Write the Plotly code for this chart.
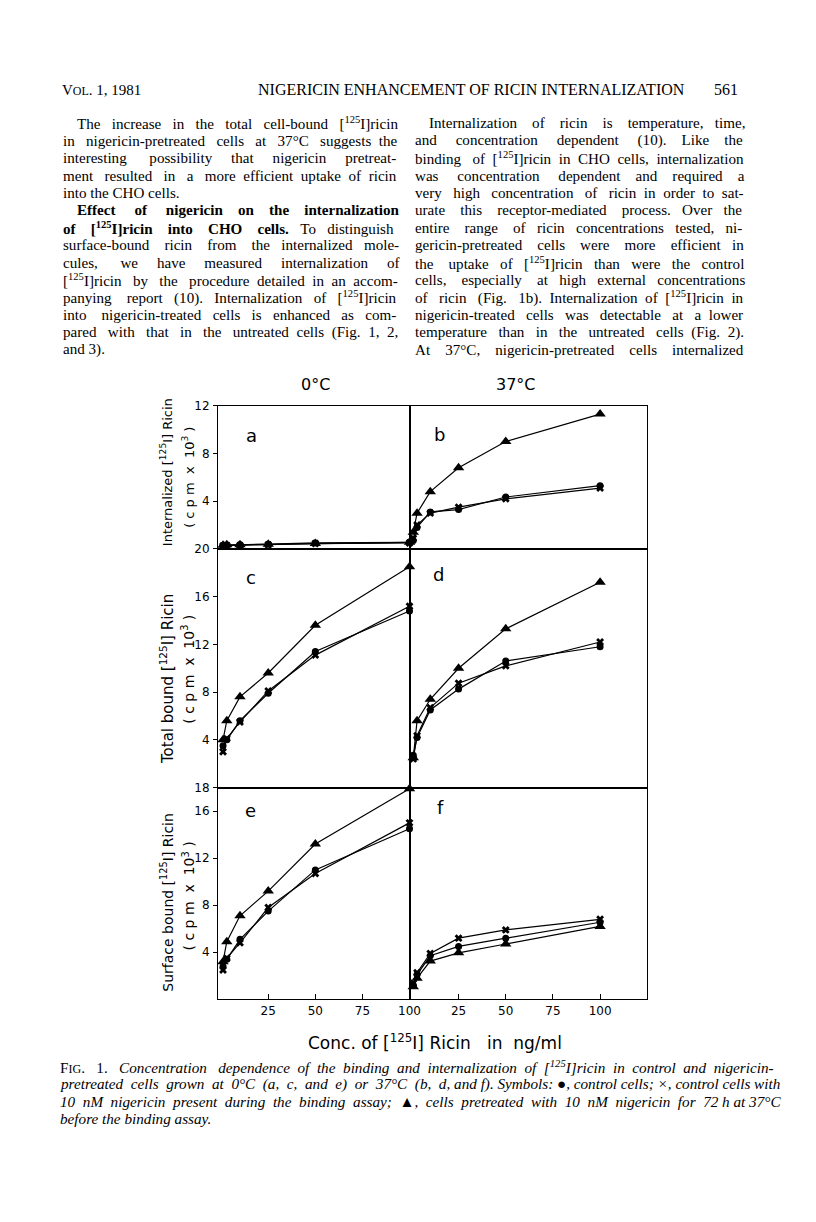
import re
import plotly.graph_objects as go

W, H = 816, 1222
OFF_X, OFF_Y = 0, 10  # page offset of the plot div inside the browser window

# ---------------- data ----------------
conc = [1, 3, 10, 25, 50, 100]

# panel a: internalized, 0 C
a_control = [0.3, 0.3, 0.35, 0.4, 0.5, 0.55]
a_nigericin = [0.25, 0.3, 0.3, 0.35, 0.45, 0.5]
a_pretreated = [0.3, 0.35, 0.35, 0.4, 0.45, 0.55]
# panel b: internalized, 37 C
b_control = [0.7, 1.8, 3.1, 3.3, 4.35, 5.3]
b_nigericin = [0.9, 2.0, 3.0, 3.5, 4.2, 5.1]
b_pretreated = [1.4, 3.0, 4.8, 6.8, 9.0, 11.3]
# panel c: total bound, 0 C
c_control = [3.5, 4.0, 5.6, 7.9, 11.4, 14.8]
c_nigericin = [3.0, 4.1, 5.5, 8.1, 11.1, 15.2]
c_pretreated = [4.0, 5.6, 7.6, 9.6, 13.6, 18.5]
# panel d: total bound, 37 C
d_control = [2.7, 4.2, 6.5, 8.25, 10.6, 11.8]
d_nigericin = [2.4, 4.35, 6.7, 8.75, 10.2, 12.2]
d_pretreated = [2.5, 5.6, 7.4, 10.0, 13.3, 17.2]
# panel e: surface bound, 0 C
e_control = [2.8, 3.4, 5.1, 7.5, 11.0, 14.5]
e_nigericin = [2.5, 3.5, 4.8, 7.8, 10.7, 15.0]
e_pretreated = [3.2, 4.9, 7.1, 9.2, 13.2, 17.9]
# panel f: surface bound, 37 C
f_control = [1.2, 2.1, 3.7, 4.5, 5.2, 6.55]
f_nigericin = [1.36, 2.26, 3.9, 5.2, 5.9, 6.8]
f_pretreated = [1.07, 1.8, 3.25, 3.95, 4.7, 6.2]

left_xticks = [25, 50, 75, 100]
right_xticks = [25, 50, 75, 100]
a_yticks = [4, 8, 12]
c_yticks = [4, 8, 12, 16, 20]
e_yticks = [4, 8, 12, 16, 18]

panels = [
    ("a", a_control, a_nigericin, a_pretreated),
    ("b", b_control, b_nigericin, b_pretreated),
    ("c", c_control, c_nigericin, c_pretreated),
    ("d", d_control, d_nigericin, d_pretreated),
    ("e", e_control, e_nigericin, e_pretreated),
    ("f", f_control, f_nigericin, f_pretreated),
]

# ---------------- layout helpers ----------------
def X(px):
    return (px - OFF_X) / W

def Y(py):
    return 1 - (py - OFF_Y) / H

LEFT_X = (213, 407)
RIGHT_X = (407, 648)
ROWS = [(403, 547), (547, 787), (787, 1000)]
YRANGES = [[0, 12], [0, 20], [0, 18]]
YTICKS = [a_yticks, c_yticks, e_yticks]

fig = go.Figure()
axis_font = dict(family="DejaVu Sans", size=12, color="black")

for i, (name, ctrl, nig, pre) in enumerate(panels):
    row, col = divmod(i, 2)
    idx = i + 1
    xa = "x" if idx == 1 else f"x{idx}"
    ya = "y" if idx == 1 else f"y{idx}"
    line = dict(color="black", width=1.2)
    fig.add_trace(go.Scatter(x=conc, y=ctrl, mode="lines+markers", xaxis=xa, yaxis=ya,
                             line=line, marker=dict(symbol="circle", size=7, color="black"),
                             showlegend=False, cliponaxis=False))
    fig.add_trace(go.Scatter(x=conc, y=nig, mode="lines+markers", xaxis=xa, yaxis=ya,
                             line=line, marker=dict(symbol="x", size=7, color="black"),
                             showlegend=False, cliponaxis=False))
    fig.add_trace(go.Scatter(x=conc, y=pre, mode="lines+markers", xaxis=xa, yaxis=ya,
                             line=line, marker=dict(symbol="triangle-up", size=10, color="black"),
                             showlegend=False, cliponaxis=False))

    xd = LEFT_X if col == 0 else RIGHT_X
    yd = ROWS[row]
    xr = [-1.6, 100] if col == 0 else [-1, 125]
    xkey = "xaxis" if idx == 1 else f"xaxis{idx}"
    ykey = "yaxis" if idx == 1 else f"yaxis{idx}"
    bottom = row == 2
    xticks = (left_xticks if col == 0 else right_xticks) if bottom else []
    fig.update_layout(**{
        xkey: dict(domain=[X(xd[0]), X(xd[1])], range=xr, anchor=ya,
                   showline=True, linecolor="black", linewidth=1.3, mirror=True,
                   showgrid=False, zeroline=False,
                   tickvals=xticks, ticktext=[str(t) for t in xticks],
                   ticks="inside" if bottom else "", ticklen=5, tickcolor="black",
                   tickfont=axis_font, showticklabels=bottom),
        ykey: dict(domain=[Y(yd[1]), Y(yd[0])], range=YRANGES[row], anchor=xa,
                   showline=True, linecolor="black", linewidth=1.3, mirror=True,
                   showgrid=False, zeroline=False,
                   tickvals=YTICKS[row] if col == 0 else [],
                   ticks="outside" if col == 0 else "", ticklen=4, tickcolor="black",
                   ticklabelstandoff=1,
                   tickfont=axis_font, showticklabels=(col == 0)),
    })

ann = []

def text(px, py, s, size=15, family="Liberation Serif", xanchor="left", yanchor="middle",
         angle=0, color="black"):
    ann.append(dict(x=X(px), y=Y(py), xref="paper", yref="paper", text=s, showarrow=False,
                    xanchor=xanchor, yanchor=yanchor, textangle=angle, borderpad=0,
                    font=dict(family=family, size=size, color=color)))

# ---- Times-compatible advance widths (per 1000 em) to justify text lines ----
TW = {" ": 250, ",": 250, ".": 250, "-": 333, "(": 333, ")": 333, "[": 333, "]": 333,
      ":": 278, ";": 278, "/": 278, "°": 400, "●": 600, "×": 564, "▲": 700}
TW.update({d: 500 for d in "0123456789"})
TW.update(dict(zip("ABCDEFGHIJKLMNOPQRSTUVWXYZ",
                   [722, 667, 667, 722, 611, 556, 722, 722, 333, 389, 722, 611, 889, 722, 722,
                    556, 722, 667, 556, 611, 722, 722, 944, 722, 722, 611])))
TW.update(dict(zip("abcdefghijklmnopqrstuvwxyz",
                   [444, 500, 444, 500, 444, 333, 500, 500, 278, 278, 500, 278, 778, 500, 500,
                    500, 500, 333, 389, 278, 500, 500, 722, 500, 500, 444])))

def measure(s, size):
    w, bold, sup, small = 0.0, False, False, False
    for tok in re.findall(r"<[^>]+>|[^<]+", s):
        if tok.startswith("<"):
            t = tok.lower()
            if t == "<b>": bold = True
            elif t == "</b>": bold = False
            elif t == "<sup>": sup = True
            elif t == "</sup>": sup = False
            elif t.startswith("<span"): small = True
            elif t == "</span>": small = False
            continue
        f = size * (0.7 if sup else 1.0) * (1.06 if bold else 1.0)
        if small:
            f = 12
        for ch in tok:
            w += TW.get(ch, 500) / 1000 * f
    return w

def justify(s, target, size):
    gaps = s.count(" ")
    if gaps == 0:
        return s
    extra = target - measure(s, size)
    n = int(round(extra / (0.25 * size)))
    if n <= 0:
        return s
    parts = s.split(" ")
    out = parts[0]
    for g, p in enumerate(parts[1:]):
        k = n // gaps + (1 if g < n % gaps else 0)
        out += " " + "\u00a0" * k + p
    return out

# panel letters
for letter, (px, py) in zip("abcdef", [(247, 433), (437, 432), (246, 576), (436, 573), (246, 810), (438, 807)]):
    text(px, py, letter, size=18, family="DejaVu Sans", xanchor="center")

# column headers
text(312, 382, "0°C", size=16, family="DejaVu Sans", xanchor="center")
text(515, 382, "37°C", size=16, family="DejaVu Sans", xanchor="center")

# y-axis titles
I125 = "[<sup>125</sup>I]"
CPM = "( c p m  x  10<sup>3</sup> )"
text(161, 470, f"Internalized {I125} Ricin", size=13, family="DejaVu Sans", xanchor="center", angle=-90)
text(183, 475, CPM, size=13, family="DejaVu Sans", xanchor="center", angle=-90)
text(161, 678, f"Total bound {I125} Ricin", size=15, family="DejaVu Sans", xanchor="center", angle=-90)
text(183, 668, CPM, size=14, family="DejaVu Sans", xanchor="center", angle=-90)
text(161, 902, f"Surface bound {I125} Ricin", size=14, family="DejaVu Sans", xanchor="center", angle=-90)
text(183, 896, CPM, size=14, family="DejaVu Sans", xanchor="center", angle=-90)

# x-axis title
text(433, 1043, f"Conc. of {I125} Ricin   in  ng/ml", size=17, family="DejaVu Sans", xanchor="center")

# header
SC = "<span style='font-size:12px'>"
text(54, 85, f"V{SC}OL</span>. 1, 1981", size=15)
text(470, 85, "NIGERICIN ENHANCEMENT OF RICIN INTERNALIZATION", size=16, xanchor="center")
text(741, 85, "561", size=16, xanchor="right")

BODY = 15.1
R = "[<sup>125</sup>I]ricin"
L0, L1, R0, R1, IND = 55, 390, 412, 741, 14
# (indent, text, justified)
left_lines = [
    (1, f"The increase in the total cell-bound {R}", True),
    (0, "in nigericin-pretreated cells at 37°C suggests the", True),
    (0, "interesting possibility that nigericin pretreat-", True),
    (0, "ment resulted in a more efficient uptake of ricin", True),
    (0, "into the CHO cells.", False),
    (1, "<b>Effect of nigericin on the internalization</b>", True),
    (0, f"<b>of {R} into CHO cells.</b> To distinguish", True),
    (0, "surface-bound ricin from the internalized mole-", True),
    (0, "cules, we have measured internalization of", True),
    (0, f"{R} by the procedure detailed in an accom-", True),
    (0, f"panying report (10). Internalization of {R}", True),
    (0, "into nigericin-treated cells is enhanced as com-", True),
    (0, "pared with that in the untreated cells (Fig. 1, 2,", True),
    (0, "and 3).", False),
]
right_lines = [
    (1, "Internalization of ricin is temperature, time,", True),
    (0, "and concentration dependent (10). Like the", True),
    (0, f"binding of {R} in CHO cells, internalization", True),
    (0, "was concentration dependent and required a", True),
    (0, "very high concentration of ricin in order to sat-", True),
    (0, "urate this receptor-mediated process. Over the", True),
    (0, "entire range of ricin concentrations tested, ni-", True),
    (0, "gericin-pretreated cells were more efficient in", True),
    (0, f"the uptake of {R} than were the control", True),
    (0, "cells, especially at high external concentrations", True),
    (0, f"of ricin (Fig. 1b). Internalization of {R} in", True),
    (0, "nigericin-treated cells was detectable at a lower", True),
    (0, "temperature than in the untreated cells (Fig. 2).", True),
    (0, "At 37°C, nigericin-pretreated cells internalized", True),
]
for lines, x0, x1 in ((left_lines, L0, L1), (right_lines, R0, R1)):
    for k, (ind, s, just) in enumerate(lines):
        start = x0 + IND * ind
        if just:
            s = justify(s, x1 - start, BODY)
        text(start, 119 + 17.5 * k, s, size=BODY)

CAP = 15.2
SC2 = "<span style='font-size:12px'>"
caption = [
    (f"F{SC2}IG</span>. 1. <i>Concentration dependence of the binding and internalization of [<sup>125</sup>I]ricin in control and nigericin-</i>", True),
    ("<i>pretreated cells grown at 0°C (a, c, and e) or 37°C (b, d, and f). Symbols: ●, control cells; ×, control cells with</i>", True),
    ("<i>10 nM nigericin present during the binding assay; ▲, cells pretreated with 10 nM nigericin for 72 h at 37°C</i>", True),
    ("<i>before the binding assay.</i>", False),
]
for k, (s, just) in enumerate(caption):
    if just:
        s = justify(s, 766 - 52, CAP)
    text(52, 1068 + 17.3 * k, s, size=CAP)

fig.update_layout(width=W, height=H, margin=dict(l=0, r=0, t=0, b=0),
                  paper_bgcolor="white", plot_bgcolor="white", annotations=ann)

fig.write_html("out.html")
